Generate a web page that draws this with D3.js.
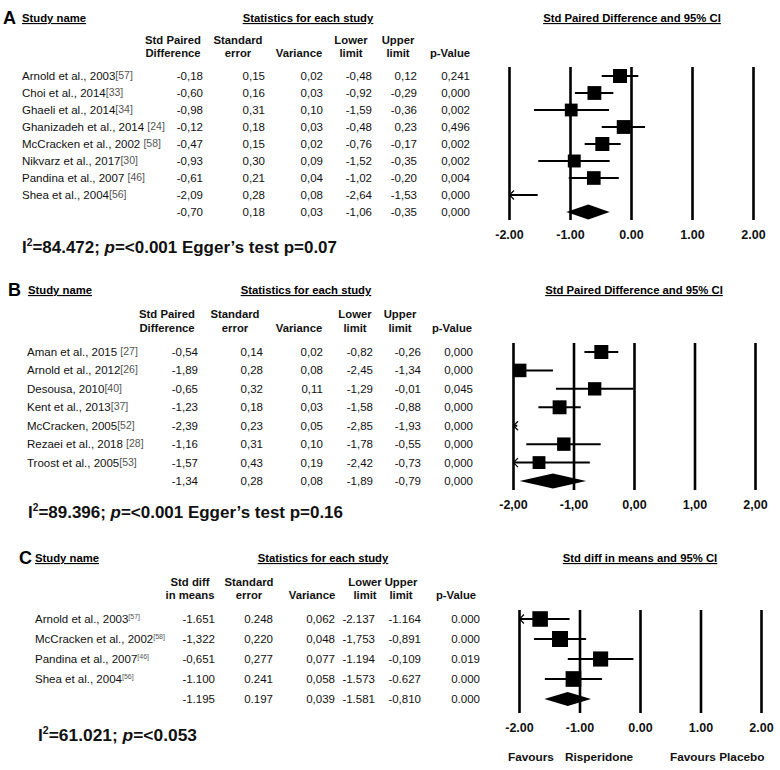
<!DOCTYPE html>
<html><head><meta charset="utf-8">
<script src="https://cdn.jsdelivr.net/npm/d3@7"></script>
<style>body{margin:0;background:#fff}svg text{font-family:"Liberation Sans",Arial,sans-serif}</style>
</head><body><svg id="c" width="780" height="770"></svg>
<script>
// ---------- Panel A data ----------
const studiesA = ["Arnold et al., 2003","Choi et al., 2014","Ghaeli et al., 2014","Ghanizadeh et al., 2014 ","McCracken et al., 2002 ","Nikvarz et al., 2017","Pandina et al., 2007 ","Shea et al., 2004"];
const refsA = ["[57]","[33]","[34]","[24]","[58]","[30]","[46]","[56]"];
const effectA = [-0.18,-0.60,-0.98,-0.12,-0.47,-0.93,-0.61,-2.09];
const seA = [0.15,0.16,0.31,0.18,0.15,0.30,0.21,0.28];
const varA = [0.02,0.03,0.10,0.03,0.02,0.09,0.04,0.08];
const lowerA = [-0.48,-0.92,-1.59,-0.48,-0.76,-1.52,-1.02,-2.64];
const upperA = [0.12,-0.29,-0.36,0.23,-0.17,-0.35,-0.20,-1.53];
const pA = [0.241,0.000,0.002,0.496,0.002,0.002,0.004,0.000];
const summaryA = [-0.70,0.18,0.03,-1.06,-0.35,0.000];
const statA = ["84.472","<0.001"," Egger\u2019s test p=0.07"];

// ---------- Panel B data ----------
const studiesB = ["Aman et al., 2015 ","Arnold et al., 2012","Desousa, 2010","Kent et al., 2013","McCracken, 2005","Rezaei et al., 2018 ","Troost et al., 2005"];
const refsB = ["[27]","[26]","[40]","[37]","[52]","[28]","[53]"];
const effectB = [-0.54,-1.89,-0.65,-1.23,-2.39,-1.16,-1.57];
const seB = [0.14,0.28,0.32,0.18,0.23,0.31,0.43];
const varB = [0.02,0.08,0.11,0.03,0.05,0.10,0.19];
const lowerB = [-0.82,-2.45,-1.29,-1.58,-2.85,-1.78,-2.42];
const upperB = [-0.26,-1.34,-0.01,-0.88,-1.93,-0.55,-0.73];
const pB = [0.000,0.000,0.045,0.000,0.000,0.000,0.000];
const summaryB = [-1.34,0.28,0.08,-1.89,-0.79,0.000];
const statB = ["89.396","<0.001"," Egger\u2019s test p=0.16"];

// ---------- Panel C data ----------
const studiesC = ["Arnold et al., 2003","McCracken et al., 2002","Pandina et al., 2007","Shea et al., 2004"];
const refsC = ["[57]","[58]","[46]","[56]"];
const effectC = [-1.651,-1.322,-0.651,-1.100];
const seC = [0.248,0.220,0.277,0.241];
const varC = [0.062,0.048,0.077,0.058];
const lowerC = [-2.137,-1.753,-1.194,-1.573];
const upperC = [-1.164,-0.891,-0.109,-0.627];
const pC = [0.000,0.000,0.019,0.000];
const summaryC = [-1.195,0.197,0.039,-1.581,-0.810,0.000];
const decimalMarksC = ["..,...",",,,,,.",",,,.,.","..,...","..,.,."];
const statC = ["61.021","<0.053",""];

// ---------- shared labels ----------
const tickValues = [-2,-1,0,1,2];
const favoursLabels = ["Favours","Risperidone","Favours Placebo"];

const svg = d3.select("#c");
const FONT = "'Liberation Sans', Arial, sans-serif";

function dlWeights(y, v){
  const w = v.map(d=>1/d), sw = d3.sum(w);
  const yb = d3.sum(y.map((d,i)=>d*w[i]))/sw;
  const Q = d3.sum(y.map((d,i)=>w[i]*(d-yb)*(d-yb)));
  const C = sw - d3.sum(w.map(d=>d*d))/sw;
  const tau2 = Math.max(0,(Q-(y.length-1))/C);
  return v.map(d=>1/(d+tau2));
}

function makeFmt(dec, digits){
  const loc = d3.formatLocale({decimal:dec, thousands:" ", grouping:[3], currency:["",""], minus:"-"});
  return loc.format("."+digits+"f");
}

function drawPanel(cfg, d){
  const g = svg.append("g");
  const n = d.names.length;
  const y = d3.scalePoint().domain(d3.range(n+1)).range([cfg.rowTop, cfg.rowBottom]);
  g.append("text").attr("x",cfg.labelX).attr("y",cfg.titleY+6).attr("font-size",18).attr("font-weight","bold").text(cfg.label);
  g.append("text").attr("x",cfg.nameX).attr("y",cfg.titleY+4).attr("font-size",11.3).attr("font-weight","bold")
    .style("text-decoration","underline").text("Study name");
  g.append("text").attr("x",cfg.statsTitleX).attr("y",cfg.titleY+4).attr("text-anchor","middle").attr("font-size",11.3).attr("font-weight","bold")
    .style("text-decoration","underline").text("Statistics for each study");
  cfg.headers.forEach((h,i)=>{
    [0,1].forEach(k=>{
      if(!h[k]) return;
      g.append("text").attr("x",cfg.headX[i]).attr("y",(k?cfg.head2:cfg.head1)+4).attr("text-anchor","middle")
        .attr("font-size",11.3).attr("font-weight","bold").attr("fill","#111").text(h[k]);
    });
  });
  const cols = d.names.map((nm,i)=>[d.effect[i],d.se[i],d.variance[i],d.lower[i],d.upper[i],d.p[i]]);
  cols.push(d.summary);
  cols.forEach((row,i)=>{
    const yy = y(i)+4;
    if(i<n){
      const t = g.append("text").attr("x",cfg.nameX+(cfg.nameIndent||0)).attr("y",yy).attr("font-size",11.5).attr("fill","#111");
      t.append("tspan").text(d.names[i]);
      t.append("tspan").attr("font-size",cfg.refSup?7:10.5).attr("fill","#555").attr("dy",cfg.refSup?-4:-1).text(d.refs[i]);
    }
    row.forEach((v,j)=>{
      const digits = j===5?3:cfg.digits;
      const dec = d.marks ? d.marks[i][j] : cfg.decimal;
      g.append("text").attr("x",cfg.colRight[j]).attr("y",yy).attr("text-anchor","end").attr("font-size",11.5).attr("fill","#111")
        .text(makeFmt(dec,digits)(v));
    });
  });
  const x = d3.scaleLinear().domain([-2,2]).range([cfg.x0,cfg.x1]);
  g.append("text").attr("x",(cfg.x0+cfg.x1)/2+cfg.ptitleDx).attr("y",cfg.titleY+4).attr("text-anchor","middle").attr("font-size",11.3).attr("font-weight","bold")
    .style("text-decoration","underline").text(cfg.plotTitle);
  const axis = d3.axisBottom(x).tickValues(tickValues).tickSizeInner(-(cfg.lineBottom-cfg.lineTop)).tickSizeOuter(0)
    .tickPadding(cfg.tickPad).tickFormat(makeFmt(cfg.tickDecimal,2));
  const ag = g.append("g").attr("transform",`translate(0,${cfg.lineBottom})`).call(axis);
  ag.select(".domain").remove();
  ag.selectAll(".tick line").attr("stroke","#000").attr("stroke-width",2.6);
  ag.selectAll(".tick text").attr("font-family",FONT).attr("font-size",12.5).attr("font-weight","bold").attr("fill","#111");
  const w = dlWeights(d.effect, d.variance), wmax = d3.max(w);
  d.names.forEach((nm,i)=>{
    const yy = y(i);
    const lo = Math.max(-2,d.lower[i]), hi = Math.min(2,d.upper[i]);
    if(hi>lo) g.append("line").attr("x1",x(lo)).attr("x2",x(hi)).attr("y1",yy).attr("y2",yy).attr("stroke","#000").attr("stroke-width",2);
    if(d.lower[i]<-2){
      g.append("path").attr("d",`M${x(-2)+5},${yy-4.5}L${x(-2)+0.5},${yy}L${x(-2)+5},${yy+4.5}`)
        .attr("fill","none").attr("stroke","#000").attr("stroke-width",1.2);
    }
    if(d.effect[i]>=-2 && d.effect[i]<=2){
      const s = cfg.sq*Math.pow(w[i]/wmax,0.3);
      g.append("rect").attr("x",x(d.effect[i])-s/2).attr("y",yy-s/2).attr("width",s).attr("height",s).attr("fill","#000");
    }
  });
  const ys = y(n), h = cfg.dia;
  g.append("path").attr("d",`M${x(d.summary[3])},${ys}L${x(d.summary[0])},${ys-h}L${x(d.summary[4])},${ys}L${x(d.summary[0])},${ys+h}Z`).attr("fill","#000");
  const st = g.append("text").attr("x",cfg.statX).attr("y",cfg.statY+6).attr("font-family","Lato, 'Open Sans', sans-serif")
    .attr("font-size",16.5).attr("font-weight","bold").attr("fill","#111");
  st.append("tspan").text("I");
  st.append("tspan").attr("font-size",10).attr("dy",-7).text("2");
  st.append("tspan").attr("dy",7).text("="+d.stat[0]+"; ");
  st.append("tspan").attr("font-style","italic").text("p");
  st.append("tspan").text("="+d.stat[1]+d.stat[2]);
  st.attr("textLength",cfg.statW).attr("lengthAdjust","spacingAndGlyphs");
  return {g,x};
}

drawPanel({label:"A",labelX:3,titleY:18,nameX:22,statsTitleX:308,head1:40,head2:53,rowTop:76,rowBottom:212,
  colRight:[203,265,323,372,417,470],headX:[173,238,299,351,398,450],
  headers:[["Std Paired","Difference"],["Standard","error"],["","Variance"],["Lower","limit"],["Upper","limit"],["","p-Value"]],
  digits:2,decimal:",",x0:509,x1:753,lineTop:67,lineBottom:220,tickPad:10,tickDecimal:".",plotTitle:"Std Paired Difference and 95% CI",ptitleDx:1,
  sq:14,dia:7.5,statX:22,statY:247,statW:315},
  {names:studiesA,refs:refsA,effect:effectA,se:seA,variance:varA,lower:lowerA,upper:upperA,p:pA,summary:summaryA,stat:statA});

drawPanel({label:"B",labelX:8,titleY:290,nameX:28,nameIndent:-1,statsTitleX:306,head1:314,head2:328,rowTop:352,rowBottom:481,
  colRight:[198,263,323,373,421,473],headX:[167,235,299,355,400,452],
  headers:[["Std Paired","Difference"],["Standard","error"],["","Variance"],["Lower","limit"],["Upper","limit"],["","p-Value"]],
  digits:2,decimal:",",x0:513,x1:755,lineTop:343,lineBottom:490,tickPad:10,tickDecimal:",",plotTitle:"Std Paired Difference and 95% CI",ptitleDx:0,
  sq:14,dia:7.5,statX:28,statY:512,statW:315},
  {names:studiesB,refs:refsB,effect:effectB,se:seB,variance:varB,lower:lowerB,upper:upperB,p:pB,summary:summaryB,stat:statB});

const pc = drawPanel({label:"C",labelX:19,titleY:558,nameX:35,statsTitleX:323,head1:582,head2:595,rowTop:619,rowBottom:699,
  colRight:[215,273,335,375,421,480],headX:[190,249,312,365,401,456],
  headers:[["Std diff","in means"],["Standard","error"],["","Variance"],["Lower","limit"],["Upper","limit"],["","p-Value"]],
  digits:3,decimal:".",x0:519,x1:761,lineTop:610,lineBottom:713,tickPad:10,tickDecimal:".",plotTitle:"Std diff in means and 95% CI",ptitleDx:0,
  sq:16,dia:7,statX:38,statY:735,statW:159,refSup:true},
  {names:studiesC,refs:refsC,effect:effectC,se:seC,variance:varC,lower:lowerC,upper:upperC,p:pC,summary:summaryC,marks:decimalMarksC,stat:statC});

const favX = [508,565,670];
favoursLabels.forEach((t,i)=>{
  pc.g.append("text").attr("x",favX[i]).attr("y",761).attr("font-size",11.8).attr("font-weight","bold").attr("fill","#111").text(t);
});
</script></body></html>
